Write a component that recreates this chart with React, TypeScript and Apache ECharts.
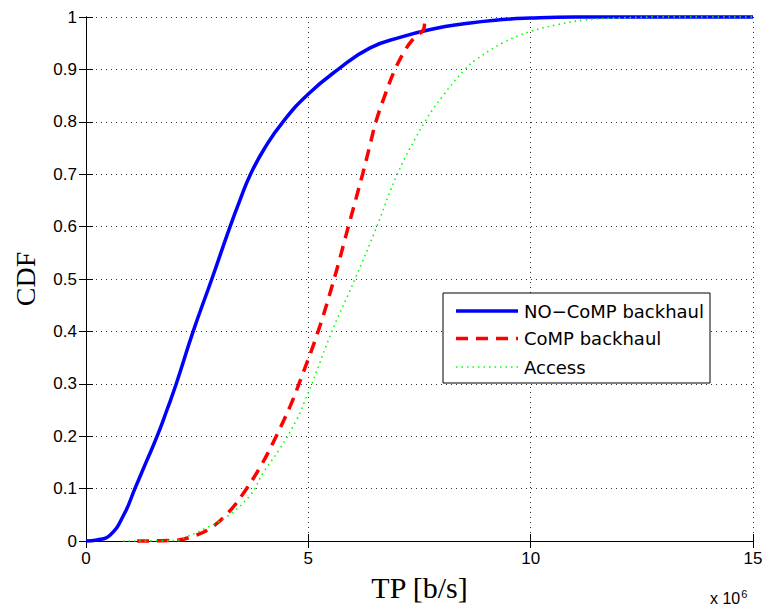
import React, { useEffect, useRef } from "react";
import * as echarts from "echarts";

// x values in units of 10^6 b/s, y = CDF
const noCompX = [0, 0.25, 0.55, 0.85, 1.1, 1.35, 1.6, 1.82, 2.03, 2.41, 2.83, 3.24, 3.46, 3.7, 4.02, 4.43, 5.0, 5.67, 6.39, 7.1, 7.8, 8.5, 9.2, 10.0, 11, 15];
const noCompY = [0, 0.002, 0.012, 0.05, 0.1, 0.15, 0.2, 0.25, 0.3, 0.4, 0.5, 0.6, 0.65, 0.7, 0.75, 0.8, 0.853, 0.9, 0.941, 0.962, 0.977, 0.987, 0.994, 0.998, 1, 1];

const compX = [1.15, 1.96, 2.34, 2.79, 3.24, 3.58, 3.91, 4.21, 4.59, 4.79, 5.22, 5.58, 5.9, 6.22, 6.37, 6.52, 6.72, 6.95, 7.2, 7.4, 7.6, 7.62];
const compY = [0, 0.001, 0.007, 0.024, 0.058, 0.096, 0.14, 0.188, 0.257, 0.3, 0.4, 0.5, 0.6, 0.7, 0.75, 0.8, 0.85, 0.9, 0.94, 0.962, 0.978, 1];

const accessX = [0.83, 2.0, 2.26, 2.68, 3.16, 3.69, 3.99, 4.36, 4.74, 4.92, 5.08, 5.53, 6.05, 6.54, 7.0, 7.62, 8.03, 8.52, 8.78, 9.38, 9.98, 10.58, 11.2, 11.9, 13, 15];
const accessY = [0, 0.001, 0.008, 0.024, 0.046, 0.087, 0.131, 0.176, 0.232, 0.267, 0.3, 0.4, 0.5, 0.6, 0.7, 0.8, 0.85, 0.9, 0.919, 0.951, 0.972, 0.985, 0.994, 0.998, 1, 1];

const seriesNames = ["NO\u2212CoMP backhaul", "CoMP backhaul", "Access"];
const seriesColors = ["#0000ff", "#ff0000", "#00ff00"];
const seriesWidths = [3.5, 3.5, 1.6];
const seriesDashes: any[] = [null, [12, 8], [1.5, 4]];
const xTitle = "TP [b/s]";
const yTitle = "CDF";

const zip = (xs: number[], ys: number[]) => xs.map((x, i) => [x, ys[i]]);

export default function App() {
  const ref = useRef<HTMLDivElement>(null);
  useEffect(() => {
    if (!ref.current) return;
    const chart = echarts.init(ref.current, undefined, { renderer: "svg" });
    const labelFont = { fontFamily: "Liberation Sans", fontSize: 17, color: "#000" };
    const gridLine = { show: true, lineStyle: { color: "#333", type: [1, 4] as any, width: 1 } };

    const legendLeft = 443, legendTop = 293, legendW = 267, legendH = 90;
    const rowY = [311, 338.5, 367];
    const legendGraphics: any[] = [
      {
        type: "rect", z: 100,
        shape: { x: legendLeft, y: legendTop, width: legendW, height: legendH },
        style: { fill: "#fff", stroke: "#000", lineWidth: 1 },
      },
    ];
    seriesNames.forEach((n, i) => {
      legendGraphics.push({
        type: "line", z: 101,
        shape: { x1: 456, y1: rowY[i], x2: 518, y2: rowY[i] },
        style: { stroke: seriesColors[i], lineWidth: seriesWidths[i], lineDash: seriesDashes[i] || undefined },
      });
      legendGraphics.push({
        type: "text", z: 101, x: 524, y: rowY[i],
        style: {
          text: n, fontFamily: "DejaVu Sans", fontSize: 18, fill: "#000",
          textVerticalAlign: "middle", verticalAlign: "middle",
        },
      });
    });

    chart.setOption({
      animation: false,
      backgroundColor: "#fff",
      grid: { left: 86, right: 13, top: 17, bottom: 61, containLabel: false },
      xAxis: [
        {
          type: "value", min: 0, max: 15, interval: 5,
          name: xTitle, nameLocation: "middle", nameGap: 31,
          nameTextStyle: { fontFamily: "Liberation Serif", fontSize: 30, color: "#000" },
          axisLine: { show: true, lineStyle: { color: "#000", width: 1 } },
          axisTick: { show: true, inside: true, length: 7, lineStyle: { color: "#000" } },
          axisLabel: { ...labelFont, margin: 9 },
          splitLine: gridLine,
        },
        {
          type: "value", min: 0, max: 15, interval: 5, position: "top",
          axisLine: { show: true, lineStyle: { color: "#000", width: 1 } },
          axisTick: { show: true, inside: true, length: 7, lineStyle: { color: "#000" } },
          axisLabel: { show: false },
          splitLine: { show: false },
        },
      ],
      yAxis: [
        {
          type: "value", min: 0, max: 1, interval: 0.1,
          name: yTitle, nameLocation: "middle", nameGap: 47,
          nameTextStyle: { fontFamily: "Liberation Serif", fontSize: 28, color: "#000" },
          axisLine: { show: true, lineStyle: { color: "#000", width: 1 } },
          axisTick: { show: true, inside: true, length: 7, lineStyle: { color: "#000" } },
          axisLabel: {
            ...labelFont, margin: 9,
            formatter: (v: number) => (v === 0 ? "0" : v === 1 ? "1" : v.toFixed(1)),
          },
          splitLine: gridLine,
        },
        {
          type: "value", min: 0, max: 1, interval: 0.1, position: "right",
          axisLine: { show: true, lineStyle: { color: "#000", width: 1 } },
          axisTick: { show: true, inside: true, length: 7, lineStyle: { color: "#000" } },
          axisLabel: { show: false },
          splitLine: { show: false },
        },
      ],
      graphic: [
        ...legendGraphics,
        {
          type: "text",
          left: 710,
          top: 588,
          style: {
            text: "x 10{s|6}",
            rich: { s: { fontSize: 11, verticalAlign: "top", padding: [0, 0, 10, 1], fontFamily: "Liberation Sans" } },
            fontFamily: "Liberation Sans",
            fontSize: 16,
            fill: "#000",
          },
        },
      ],
      series: [
        {
          name: seriesNames[0], type: "line", data: zip(noCompX, noCompY),
          showSymbol: false, symbol: "none", smooth: 0.5, clip: false,
          lineStyle: { color: seriesColors[0], width: seriesWidths[0], type: "solid" },
        },
        {
          name: seriesNames[1], type: "line", data: zip(compX, compY),
          showSymbol: false, symbol: "none", smooth: 0.4, clip: false,
          lineStyle: { color: seriesColors[1], width: seriesWidths[1], type: seriesDashes[1] },
        },
        {
          name: seriesNames[2], type: "line", data: zip(accessX, accessY),
          showSymbol: false, symbol: "none", smooth: 0.4, clip: false,
          lineStyle: { color: seriesColors[2], width: seriesWidths[2], type: seriesDashes[2] },
        },
      ],
    });
    return () => chart.dispose();
  }, []);
  return <div ref={ref} style={{ width: 766, height: 607, position: "absolute", left: 0, top: 0 }} />;
}
